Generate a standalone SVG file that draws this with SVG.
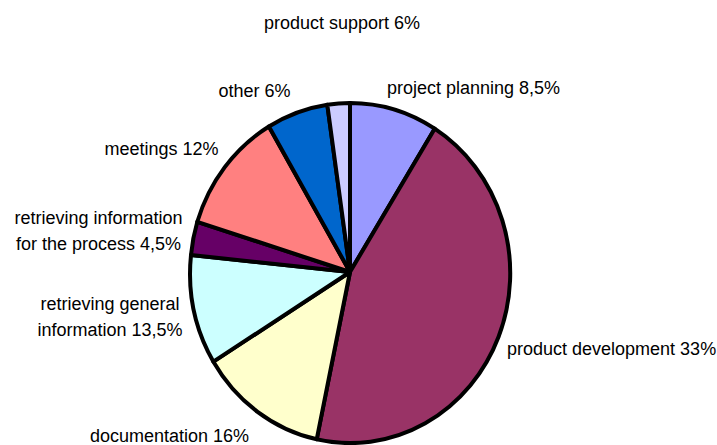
<svg xmlns="http://www.w3.org/2000/svg" width="717" height="445" viewBox="0 0 717 445">
<style>
  .s { stroke: #000; stroke-width: 4; stroke-linejoin: round; }
  .t { font-family: "Liberation Sans", Arial, sans-serif; font-size: 18px; fill: #000; }
  .m { text-anchor: middle; }
</style>
<rect width="717" height="445" fill="#fff"/>
<g id="pie">
  <g id="slice-project-planning"><path class="s" fill="#9999FF" d="M350,272 L350,103 A160,170 0 0 1 434.7,128.7 Z"/></g>
  <g id="slice-product-development"><path class="s" fill="#993366" d="M350,272 L434.7,128.7 A160,170 0 0 1 316.7,439.3 Z"/></g>
  <g id="slice-documentation"><path class="s" fill="#FFFFCC" d="M350,272 L316.7,439.3 A160,170 0 0 1 213.4,361.7 Z"/></g>
  <g id="slice-retrieving-general"><path class="s" fill="#CCFFFF" d="M350,272 L213.4,361.7 A160,170 0 0 1 191,255 Z"/></g>
  <g id="slice-retrieving-process"><path class="s" fill="#660066" d="M350,272 L191,255 A160,170 0 0 1 197.3,221.8 Z"/></g>
  <g id="slice-meetings"><path class="s" fill="#FF8080" d="M350,272 L197.3,221.8 A160,170 0 0 1 268.9,126.5 Z"/></g>
  <g id="slice-other"><path class="s" fill="#0066CC" d="M350,272 L268.9,126.5 A160,170 0 0 1 327.3,104.7 Z"/></g>
  <g id="slice-product-support"><path class="s" fill="#CCCCFF" d="M350,272 L327.3,104.7 A160,170 0 0 1 350,103 Z"/></g>
</g>
<g id="labels">
  <text class="t" x="264" y="29">product support 6%</text>
  <text class="t" x="387" y="93.5">project planning 8,5%</text>
  <text class="t" x="218.5" y="96.7">other 6%</text>
  <text class="t" x="104.5" y="155">meetings 12%</text>
  <text class="t m" x="98.5" y="224">retrieving information</text>
  <text class="t m" x="98.5" y="250">for the process 4,5%</text>
  <text class="t m" x="110" y="310">retrieving general</text>
  <text class="t m" x="110" y="336">information 13,5%</text>
  <text class="t" x="507" y="355">product development 33%</text>
  <text class="t" x="90" y="442">documentation 16%</text>
</g>
</svg>
